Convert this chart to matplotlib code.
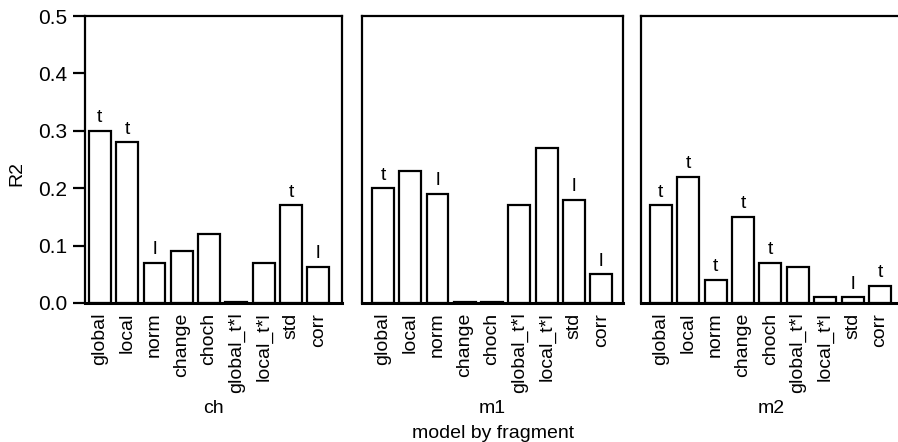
import numpy as np
from matplotlib import pyplot as plt

plt.rcParams['font.family'] = ['Liberation Sans', 'DejaVu Sans']

models = ['global', 'local', 'norm', 'change', 'choch', 'global_t*l', 'local_t*l', 'std', 'corr']
fragments = ['ch', 'm1', 'm2']

ch_r2 = [0.30, 0.28, 0.07, 0.09, 0.12, 0.002, 0.07, 0.17, 0.063]
m1_r2 = [0.20, 0.23, 0.19, 0.001, 0.001, 0.17, 0.27, 0.18, 0.05]
m2_r2 = [0.17, 0.22, 0.04, 0.15, 0.07, 0.062, 0.01, 0.01, 0.03]

ch_marks = ['t', 't', 'l', '', '', '', '', 't', 'l']
m1_marks = ['t', '', 'l', '', '', '', '', 'l', 'l']
m2_marks = ['t', 't', 't', 't', 't', '', '', 'l', 't']

values = [ch_r2, m1_r2, m2_r2]
marks = [ch_marks, m1_marks, m2_marks]

W, H = 898, 442
fig = plt.figure(figsize=(W / 100, H / 100), dpi=100)

# panel edges in pixels (left, right) and x limits
panels = [(85, 342), (362, 623), (641, 902)]
xlims = [(-0.545, 8.87), (-0.77, 8.8), (-0.72, 8.8)]
top_px, bot_px = 16, 303
x = np.arange(len(models))

for i, frag in enumerate(fragments):
    l, r = panels[i]
    ax = fig.add_axes([l / W, 1 - bot_px / H, (r - l) / W, (bot_px - top_px) / H])
    ax.bar(x, values[i], width=0.8, color='white', edgecolor='black', linewidth=1.6)
    for xi, v, m in zip(x, values[i], marks[i]):
        if m:
            ax.text(xi, v + 0.008, m, ha='center', va='bottom', fontsize=14)
    ax.set_xlim(*xlims[i])
    ax.set_ylim(0, 0.5)
    ax.set_xticks(x)
    ax.set_xticklabels(models, rotation=90, fontsize=14)
    ax.tick_params(axis='x', length=0, pad=7)
    for s in ax.spines.values():
        s.set_linewidth(1.6)
    ax.spines['bottom'].set_linewidth(2.2)
    ax.set_xlabel(frag, fontsize=14, labelpad=5)
    if i == 0:
        ax.set_yticks([0, 0.1, 0.2, 0.3, 0.4, 0.5])
        ax.set_yticklabels(['0.0', '0.1', '0.2', '0.3', '0.4', '0.5'], fontsize=15)
        ax.tick_params(axis='y', length=9, width=1.6, direction='out', pad=4)
        ax.set_ylabel('R2', fontsize=14)
        ax.yaxis.set_label_coords(-0.233, 0.45)
    else:
        ax.set_yticks([])

fig.text(493 / W, 1 - 433 / H, 'model by fragment', ha='center', va='center', fontsize=14)
plt.savefig('out.png', dpi=100)
